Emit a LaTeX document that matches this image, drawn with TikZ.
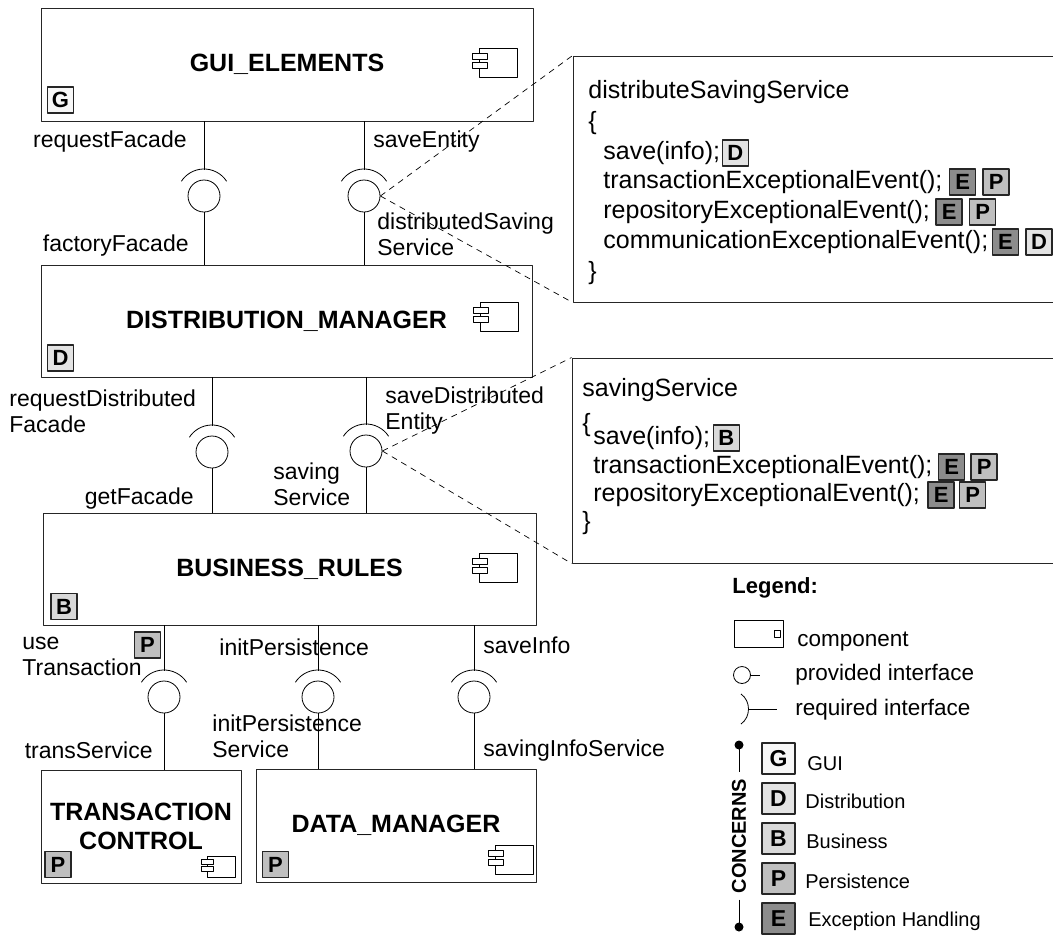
\documentclass[tikz,border=0pt]{standalone}
\usepackage{fontspec}
\setmainfont{Liberation Sans}
\usetikzlibrary{positioning}
\definecolor{gG}{gray}{0.97}
\definecolor{gD}{gray}{0.89}
\definecolor{gB}{gray}{0.85}
\definecolor{gP}{gray}{0.75}
\definecolor{gE}{gray}{0.55}
\begin{document}
\begin{tikzpicture}[x=1pt,y=-1pt,line width=.8pt,line join=round,
 comp/.style={draw=black!85,line width=.9pt,inner sep=0pt,align=center,
   font=\fontsize{25}{29}\selectfont\bfseries},
 badge/.style={draw=black!85,line width=1.5pt,minimum size=26pt,inner sep=0pt,
   font=\fontsize{22}{22}\selectfont\bfseries},
 bigbadge/.style={badge,minimum width=33pt,minimum height=31pt,
   font=\fontsize{23}{23}\selectfont\bfseries},
 ball/.style={circle,draw,minimum size=32pt,inner sep=0pt},
 lab/.style={font=\fontsize{23}{26}\selectfont,inner sep=0pt,align=left},
 code/.style={font=\fontsize{25}{30}\selectfont,inner sep=0pt,anchor=west,
   text height=18pt,text depth=5pt},
 codebox/.style={draw=black!85,line width=.9pt,minimum width=500pt,inner sep=0pt},
 leg/.style={font=\fontsize{20}{24}\selectfont,inner sep=0pt,anchor=west},
 icon/.pic={\draw[line width=.9pt] (0,0) rectangle (38,29);
   \draw[line width=.9pt,fill=white] (-7,5) rectangle (8,11);
   \draw[line width=.9pt,fill=white] (-7,14) rectangle (8,20);}]
\useasboundingbox (0,0) rectangle (1053,935);

\node[comp,minimum width=492pt,minimum height=113pt] (gui) at (287,64.5) {GUI\_ELEMENTS};
\node[comp,minimum width=491pt,minimum height=112pt] (dist) at (286.5,321) {DISTRIBUTION\_MANAGER};
\node[comp,minimum width=493pt,minimum height=112pt] (bus) at (289.5,569) {BUSINESS\_RULES};
\node[comp,minimum width=200pt,minimum height=113pt] (trans) at (141,826.5) {TRANSACTION\\CONTROL};
\node[comp,minimum width=280pt,minimum height=113pt] (data) at (396,825.5) {DATA\_MANAGER};

\node[badge,fill=gG] (bg) at (60.5,100) {G};
\node[badge,fill=gD] (bd) at (60.5,358) {D};
\node[badge,fill=gB] (bb) at (64,606.5) {B};
\node[badge,fill=gP] (bpbus) at (147.5,645) {P};
\node[badge,fill=gP] (bptrans) at (58,864.5) {P};
\node[badge,fill=gP] (bpdata) at (275.5,864.5) {P};

\pic at (479,48) {icon};
\pic at (480,302) {icon};
\pic at (479,553) {icon};
\pic[scale=.75] at (207,856) {icon};
\pic at (495,845) {icon};

\node[ball] (i1) at (204,196) {};
\node[ball] (i2) at (364,196) {};
\node[ball] (i3) at (212,452) {};
\node[ball] (i4) at (366,451) {};
\node[ball] (i5) at (164,697) {};
\node[ball] (i6) at (318,697) {};
\node[ball] (i7) at (474,697) {};
\foreach \i/\a/\b in {i1/gui/dist,i2/gui/dist,i3/dist/bus,i4/dist/bus,
  i5/bus/trans,i6/bus/data,i7/bus/data}{
  \draw (\i |- \a.south) -- ([yshift=26pt]\i.center);
  \draw (\i.center) ++(33:27pt) arc[start angle=33,end angle=147,radius=27pt];
  \draw (\i.south) -- (\i |- \b.north);
}

\node[lab,anchor=east] (lreqf) at (187,142) {requestFacade};
\node[lab,anchor=west] (lsave) at (373,142) {saveEntity};
\node[lab,anchor=east] (lfact) at (189,246) {factoryFacade};
\node[lab,anchor=west] (ldsave) at (377,234.5) {distributedSaving\\Service};
\node[lab,anchor=west] (lreqd) at (9,411.5) {requestDistributed\\Facade};
\node[lab,anchor=west] (lsaved) at (385,411) {saveDistributed\\Entity};
\node[lab,anchor=east] (lgetf) at (194,499) {getFacade};
\node[lab,anchor=west] (lsaving) at (273,484) {saving\\Service};
\node[lab,anchor=west] (luse) at (22,656.5) {use\\Transaction};
\node[lab,anchor=west] (linit) at (219,647) {initPersistence};
\node[lab,anchor=west] (lsinfo) at (483,645) {saveInfo};
\node[lab,anchor=east] (ltrans) at (153,750) {transService};
\node[lab,anchor=west] (linits) at (212,736.5) {initPersistence\\Service};
\node[lab,anchor=west] (lsinfos) at (483,751) {savingInfoService};

\node[codebox,minimum height=246pt] (code1) at (823,179) {};
\node[codebox,minimum height=205pt] (code2) at (822,460.5) {};
\draw[dashed,line width=.7pt,dash pattern=on 6pt off 5pt] (i2.east) -- (code1.north west);
\draw[dashed,line width=.7pt,dash pattern=on 6pt off 5pt] (i2.east) -- (code1.south west);
\draw[dashed,line width=.7pt,dash pattern=on 6pt off 5pt] (i4.east) -- (code2.north west);
\draw[dashed,line width=.7pt,dash pattern=on 6pt off 5pt] (i4.east) -- (code2.south west);

\node[code] (ca1) at (588,92) {distributeSavingService};
\node[code] (ca2) at (588,123) {\{};
\node[code] (ca3) at (603,153) {save(info);};
\node[badge,fill=gD,right=1pt of ca3] (ca3d) {D};
\node[code] (ca4) at (603,182) {transactionExceptionalEvent();};
\node[badge,fill=gE,right=6pt of ca4] (ca4e) {E};
\node[badge,fill=gP,right=6pt of ca4e] (ca4p) {P};
\node[code] (ca5) at (603,212) {repositoryExceptionalEvent();};
\node[badge,fill=gE,right=5pt of ca5] (ca5e) {E};
\node[badge,fill=gP,right=6pt of ca5e] (ca5p) {P};
\node[code] (ca6) at (603,242) {communicationExceptionalEvent();};
\node[badge,fill=gE,right=3pt of ca6] (ca6e) {E};
\node[badge,fill=gD,right=6pt of ca6e] (ca6d) {D};
\node[code] (ca7) at (588,273) {\}};

\node[code] (cb1) at (582,390) {savingService};
\node[code] (cb2) at (582,425) {\{};
\node[code] (cb3) at (593,438) {save(info);};
\node[badge,fill=gB,right=2pt of cb3] (cb3b) {B};
\node[code] (cb4) at (593,467) {transactionExceptionalEvent();};
\node[badge,fill=gE,right=5pt of cb4] (cb4e) {E};
\node[badge,fill=gP,right=5pt of cb4e] (cb4p) {P};
\node[code] (cb5) at (593,495) {repositoryExceptionalEvent();};
\node[badge,fill=gE,right=7pt of cb5] (cb5e) {E};
\node[badge,fill=gP,right=4pt of cb5e] (cb5p) {P};
\node[code] (cb6) at (582,523) {\}};

\node[leg,font=\fontsize{22}{24}\selectfont\bfseries] (legtitle) at (732,588) {Legend:};
\node[draw,line width=.9pt,minimum width=49pt,minimum height=27pt,inner sep=0pt] (legcomp) at (758.5,633.5) {};
\draw[line width=.9pt] (774,630) rectangle (780,637);
\node[leg,font=\fontsize{22.5}{24}\selectfont] (lcomp) at (797,642) {component};
\node[circle,draw,minimum size=17pt,inner sep=0pt] (legball) at (742,675) {};
\draw (legball.east) -- ++(9pt,0);
\node[leg,font=\fontsize{22.5}{24}\selectfont] (lprov) at (795,675) {provided interface};
\coordinate (legreq) at (748,709);
\draw (741,694) .. controls (751,701) and (751,717) .. (741,724);
\draw (legreq) -- ++(29pt,0);
\node[leg,font=\fontsize{22.5}{24}\selectfont] (lreq) at (795,710) {required interface};

\node[rotate=90,font=\fontsize{20}{24}\selectfont\bfseries,inner xsep=6pt,inner ysep=0pt] (concerns) at (739,836) {CONCERNS};
\coordinate (ctop) at (739,745);
\coordinate (cbot) at (739,927);
\draw (ctop) -- (concerns.east);
\draw (concerns.west) -- (cbot);
\fill (ctop) circle (4.5pt);
\fill (cbot) circle (4.5pt);

\node[bigbadge,fill=gG] (lg) at (778.5,758.5) {G};
\node[bigbadge,fill=gD] (ld) at (778.5,798.5) {D};
\node[bigbadge,fill=gB] (lb) at (778.5,838.5) {B};
\node[bigbadge,fill=gP] (lp) at (778.5,878.5) {P};
\node[bigbadge,fill=gE] (le) at (778.5,918.5) {E};
\node[leg] (lgui) at (807,764) {GUI};
\node[leg] (ldis) at (805,801) {Distribution};
\node[leg] (lbus) at (806,841) {Business};
\node[leg] (lper) at (805,881) {Persistence};
\node[leg] (lexc) at (808,921) {Exception Handling};
\end{tikzpicture}
\end{document}
